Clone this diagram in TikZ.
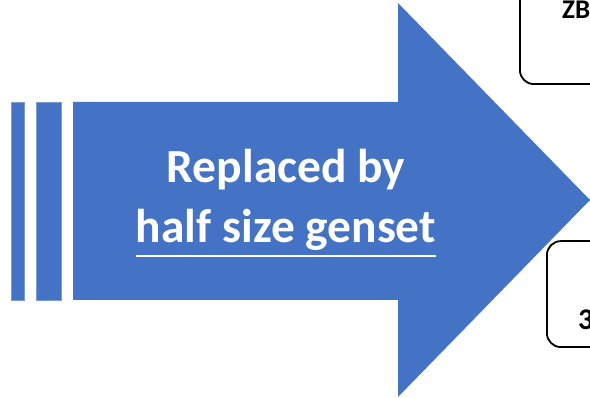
\documentclass[tikz,border=0pt]{standalone}
\usepackage{fontspec}
\setmainfont{Carlito}
\usetikzlibrary{positioning}

\definecolor{arrowblue}{HTML}{4472C4}

\begin{document}
\begin{tikzpicture}[
    x=1pt, y=1pt,
    stripe/.style={fill=arrowblue, draw=arrowblue!70!white, line width=0.4pt},
    caption/.style={text=white, font=\fontsize{47.5}{54}\selectfont\bfseries, inner sep=0pt, anchor=base},
    roundbox/.style={draw=black, line width=1.8pt, rounded corners=14pt, fill=white},
    boxtext/.style={inner sep=0pt, anchor=base west}
]

\useasboundingbox (0,0) rectangle (590,398);
\clip (0,0) rectangle (590,398);

% -------------------------
% Striped arrow
% -------------------------
\draw[stripe] (11,98) rectangle (24,296);
\draw[stripe] (36,98) rectangle (61,296);
\fill[arrowblue] (73,98) -- (73,296) -- (398,296) -- (398,395)
    -- (590,198) -- (398,1) -- (398,98) -- cycle;

% Text on the arrow
\node[caption] (replaced) at (286,215) {Replaced by};
\node[caption] (genset) at (286,155) {half size genset};
\draw[white, line width=2.8pt]
    ([yshift=-13pt]genset.base west) -- ([yshift=-13pt]genset.base east);

% -------------------------
% Boxes on the right (cut off)
% -------------------------
\node[roundbox, minimum width=180pt, minimum height=125pt, anchor=south west]
    (boxtop) at (519,313) {};
\node[boxtext, font=\fontsize{27}{32}\selectfont\bfseries] (toplabel) at (562,379) {ZB};

\node[roundbox, minimum width=180pt, minimum height=106pt, anchor=south west]
    (boxlow) at (546,50) {};
\node[boxtext, font=\fontsize{30}{35}\selectfont\bfseries] (lowlabel) at (578,68) {3};

\end{tikzpicture}
\end{document}
